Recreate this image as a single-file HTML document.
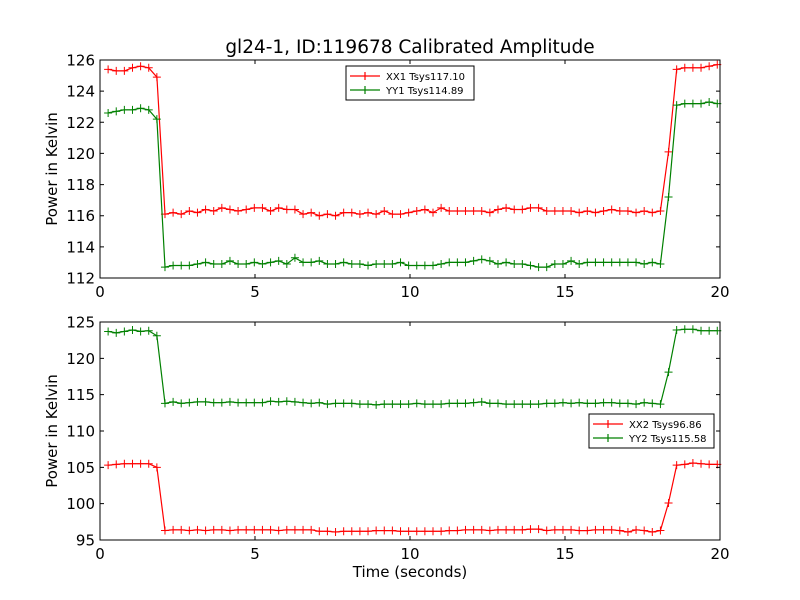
<!DOCTYPE html>
<html><head><meta charset="utf-8"><style>
body{margin:0;background:#fff;}
svg{display:block;font-family:"DejaVu Sans","Liberation Sans",sans-serif;}
</style></head><body>
<svg id="chart" width="800" height="600"></svg>
<script>
const times = Array.from({length:76},(_,i)=>+(0.262*(i+1)).toFixed(3));
const xx1 = [125.4,125.3,125.3,125.5,125.6,125.5,124.9,
116.1,116.2,116.1,116.3,116.2,116.4,116.3,116.5,116.4,116.3,116.4,116.5,116.5,116.3,116.5,116.4,116.4,116.1,116.2,116.0,116.1,116.0,116.2,116.2,116.1,116.2,116.1,116.3,116.1,116.1,116.2,116.3,116.4,116.2,116.5,116.3,116.3,116.3,116.3,116.3,116.2,116.4,116.5,116.4,116.4,116.5,116.5,116.3,116.3,116.3,116.3,116.2,116.3,116.2,116.3,116.4,116.3,116.3,116.2,116.3,116.2,116.3,
120.1,125.4,125.5,125.5,125.5,125.6,125.7];
const yy1 = [122.6,122.7,122.8,122.8,122.9,122.8,122.2,
112.7,112.8,112.8,112.8,112.9,113.0,112.9,112.9,113.1,112.9,112.9,113.0,112.9,113.0,113.1,112.9,113.3,113.0,113.0,113.1,112.9,112.9,113.0,112.9,112.9,112.8,112.9,112.9,112.9,113.0,112.8,112.8,112.8,112.8,112.9,113.0,113.0,113.0,113.1,113.2,113.1,112.9,113.0,112.9,112.9,112.8,112.7,112.7,112.9,112.9,113.1,112.9,113.0,113.0,113.0,113.0,113.0,113.0,113.0,112.9,113.0,112.9,
117.2,123.1,123.2,123.2,123.2,123.3,123.2];
const xx2 = [105.3,105.4,105.5,105.5,105.5,105.5,105.0,
96.3,96.4,96.4,96.3,96.4,96.3,96.4,96.4,96.3,96.4,96.4,96.4,96.4,96.4,96.3,96.4,96.4,96.4,96.4,96.2,96.2,96.1,96.2,96.2,96.2,96.2,96.3,96.3,96.3,96.2,96.2,96.2,96.2,96.2,96.2,96.3,96.3,96.4,96.4,96.4,96.3,96.4,96.4,96.4,96.4,96.5,96.5,96.3,96.4,96.4,96.4,96.3,96.3,96.4,96.4,96.4,96.3,96.1,96.4,96.3,96.1,96.3,
100.1,105.3,105.4,105.6,105.5,105.4,105.4];
const yy2 = [123.7,123.5,123.7,123.9,123.7,123.8,123.1,
113.8,114.0,113.8,113.9,114.0,114.0,113.9,113.9,114.0,113.9,113.9,113.9,113.9,114.1,114.0,114.1,114.0,113.9,113.8,113.9,113.7,113.8,113.8,113.8,113.7,113.7,113.6,113.7,113.7,113.7,113.7,113.8,113.7,113.7,113.7,113.8,113.8,113.8,113.9,114.0,113.8,113.8,113.7,113.7,113.7,113.7,113.7,113.8,113.8,113.9,113.8,113.9,113.8,113.8,113.9,113.9,113.8,113.8,113.7,113.9,113.8,113.7,
118.1,123.9,124.0,124.0,123.8,123.8,123.8];
const xTicks=[0,5,10,15,20];
const yTicksTop=[112,114,116,118,120,122,124,126];
const yTicksBot=[95,100,105,110,115,120,125];
const NS="http://www.w3.org/2000/svg";
const svg=document.getElementById('chart');
function mk(tag,attrs,parent){const e=document.createElementNS(NS,tag);for(const k in attrs)e.setAttribute(k,attrs[k]);(parent||svg).appendChild(e);return e;}
function panel(top,bot,ymin,ymax,yticks,series,name){
  const L=100,R=720;
  const xs=t=>L+(t-0)/(20-0)*(R-L);
  const ys=v=>bot-(v-ymin)/(ymax-ymin)*(bot-top);
  const g=mk('g',{});
  
  
  series.forEach(s=>{
    const sg=mk('g',{},g);
    
    
    const pts=times.map((t,i)=>xs(t).toFixed(1)+','+ys(s.data[i]).toFixed(1)).join(' ');
    mk('polyline',{points:pts,fill:'none',stroke:s.color,'stroke-width':1.2},sg);
    times.forEach((t,i)=>{const x=xs(t),y=ys(s.data[i]);
      mk('path',{d:`M${x-4},${y}H${x+4}M${x},${y-4}V${y+4}`,stroke:s.color,'stroke-width':1},sg);});
  });
  const fr=mk('rect',{x:L,y:top,width:R-L,height:bot-top,fill:'none',stroke:'#000','stroke-width':1},g);
  
  
  xTicks.forEach(v=>{const x=xs(v);
    mk('path',{d:`M${x},${bot}v-4M${x},${top}v4`,stroke:'#000'},g);
    const t=mk('text',{x:x,y:bot+19,'text-anchor':'middle','font-size':15},g);t.textContent=v;
    
    });
  yticks.forEach(v=>{const y=ys(v);
    mk('path',{d:`M${L},${y}h4M${R},${y}h-4`,stroke:'#000'},g);
    const t=mk('text',{x:L-5,y:y+5.5,'text-anchor':'end','font-size':15},g);t.textContent=v;
    
    });
  const yl=mk('text',{x:0,y:0,'font-size':15,'text-anchor':'middle',transform:`translate(57,${(top+bot)/2}) rotate(-90)`},g);
  yl.textContent='Power in Kelvin';
  
  
  return g;
}
panel(60,278,112,126,yTicksTop,[{name:'xx1-line',data:xx1,color:'#ff0000'},{name:'yy1-line',data:yy1,color:'#008000'}],'top-panel');
panel(322,540,95,125,yTicksBot,[{name:'xx2-line',data:xx2,color:'#ff0000'},{name:'yy2-line',data:yy2,color:'#008000'}],'bottom-panel');
function legend(x,y,w,items,name){
  const g=mk('g',{});
  
  
  mk('rect',{x:x,y:y,width:w,height:34,fill:'#fff',stroke:'#000','stroke-width':1},g);
  items.forEach((it,i)=>{const yy=y+10+i*14;
    mk('path',{d:`M${x+4},${yy}h30M${x+19},${yy-4}v8`,stroke:it.color,'stroke-width':1.2},g);
    const t=mk('text',{x:x+40,y:yy+4,'font-size':10},g);t.textContent=it.label;
    
    });
}
legend(346,66,128,[{label:'XX1 Tsys117.10',color:'#ff0000'},{label:'YY1 Tsys114.89',color:'#008000'}],'top-legend');
legend(589,414,125,[{label:'XX2 Tsys96.86',color:'#ff0000'},{label:'YY2 Tsys115.58',color:'#008000'}],'bottom-legend');
const title=mk('text',{x:410,y:53,'text-anchor':'middle','font-size':18.5});
title.textContent='gl24-1, ID:119678 Calibrated Amplitude';


const xl=mk('text',{x:410,y:577,'text-anchor':'middle','font-size':15});
xl.textContent='Time (seconds)';


</script>
</body></html>
